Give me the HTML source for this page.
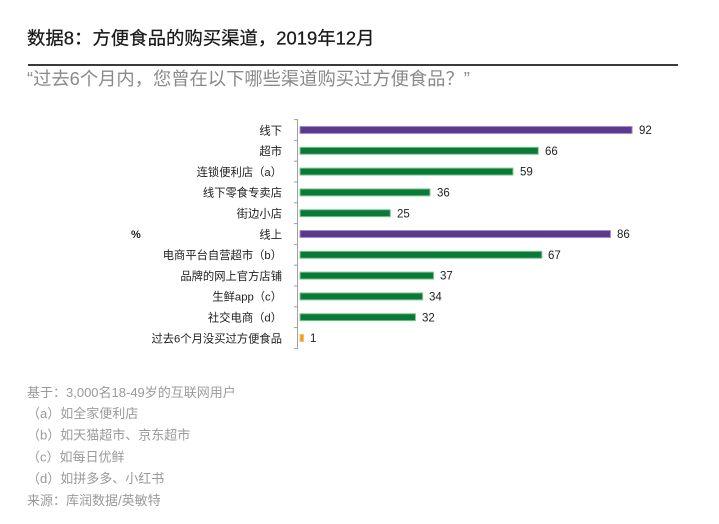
<!DOCTYPE html>
<html>
<head>
<meta charset="utf-8">
<style>
html,body{margin:0;padding:0;background:#fff;}
body{width:719px;height:524px;overflow:hidden;}
svg{display:block;}
text{font-family:"Liberation Sans","Noto Sans CJK SC",sans-serif;}
</style>
</head>
<body>
<svg width="719" height="524" viewBox="0 0 719 524" xmlns="http://www.w3.org/2000/svg">
  <!-- Title -->
  <text x="27" y="44.5" font-size="18.4" fill="#1a1a1a" stroke="#1a1a1a" stroke-width="0.25">数据8：方便食品的购买渠道，2019年12月</text>
  <rect x="28" y="64" width="650" height="2" fill="#3a3a3a"/>
  <text x="27" y="85" font-size="18.3" fill="#8a8a8a">“过去6个月内，您曾在以下哪些渠道购买过方便食品？”</text>

  <!-- Axis -->
  <line x1="297.5" y1="119" x2="297.5" y2="349" stroke="#a0a0a0" stroke-width="1"/>
  <g stroke="#a0a0a0" stroke-width="1">
    <line x1="294" y1="119.6" x2="297.5" y2="119.6"/>
    <line x1="294" y1="140.4" x2="297.5" y2="140.4"/>
    <line x1="294" y1="161.2" x2="297.5" y2="161.2"/>
    <line x1="294" y1="182" x2="297.5" y2="182"/>
    <line x1="294" y1="202.8" x2="297.5" y2="202.8"/>
    <line x1="294" y1="223.6" x2="297.5" y2="223.6"/>
    <line x1="294" y1="244.4" x2="297.5" y2="244.4"/>
    <line x1="294" y1="265.2" x2="297.5" y2="265.2"/>
    <line x1="294" y1="286" x2="297.5" y2="286"/>
    <line x1="294" y1="306.8" x2="297.5" y2="306.8"/>
    <line x1="294" y1="327.6" x2="297.5" y2="327.6"/>
    <line x1="294" y1="348.4" x2="297.5" y2="348.4"/>
  </g>

  <!-- Category labels -->
  <g font-size="11.3" fill="#222" text-anchor="end">
    <text x="282" y="134.3">线下</text>
    <text x="282" y="155.1">超市</text>
    <text x="282" y="175.9">连锁便利店（a）</text>
    <text x="282" y="196.7">线下零食专卖店</text>
    <text x="282" y="217.5">街边小店</text>
    <text x="282" y="238.3">线上</text>
    <text x="282" y="259.1">电商平台自营超市（b）</text>
    <text x="282" y="279.9">品牌的网上官方店铺</text>
    <text x="282" y="300.7">生鲜app（c）</text>
    <text x="282" y="321.5">社交电商（d）</text>
    <text x="282" y="342.3">过去6个月没买过方便食品</text>
  </g>
  <text x="131" y="238" font-size="11" fill="#222" font-weight="bold">%</text>

  <!-- Bars -->
  <g stroke-width="1">
    <rect x="300" y="126.5" width="332.1" height="7" fill="#5b3a8e" stroke="#a68fcf"/>
    <rect x="300" y="147.3" width="238.3" height="7" fill="#0a7a39" stroke="#86c996"/>
    <rect x="300" y="168.1" width="213" height="7" fill="#0a7a39" stroke="#86c996"/>
    <rect x="300" y="188.9" width="130" height="7" fill="#0a7a39" stroke="#86c996"/>
    <rect x="300" y="209.7" width="90.3" height="7" fill="#0a7a39" stroke="#86c996"/>
    <rect x="300" y="230.5" width="310.5" height="7" fill="#5b3a8e" stroke="#a68fcf"/>
    <rect x="300" y="251.3" width="241.9" height="7" fill="#0a7a39" stroke="#86c996"/>
    <rect x="300" y="272.1" width="133.6" height="7" fill="#0a7a39" stroke="#86c996"/>
    <rect x="300" y="292.9" width="122.7" height="7" fill="#0a7a39" stroke="#86c996"/>
    <rect x="300" y="313.7" width="115.5" height="7" fill="#0a7a39" stroke="#86c996"/>
    <rect x="300" y="334.5" width="3.6" height="7" fill="#f39a1e" stroke="#f7c079"/>
  </g>

  <!-- Values -->
  <g font-size="11.5" fill="#222">
    <text x="639" y="134.1">92</text>
    <text x="545" y="154.9">66</text>
    <text x="520" y="175.7">59</text>
    <text x="437" y="196.5">36</text>
    <text x="397" y="217.3">25</text>
    <text x="617" y="238.1">86</text>
    <text x="548" y="258.9">67</text>
    <text x="440" y="279.7">37</text>
    <text x="429" y="300.5">34</text>
    <text x="422" y="321.3">32</text>
    <text x="310" y="342.1">1</text>
  </g>

  <!-- Footnotes -->
  <g font-size="13" fill="#9a9a9a">
    <text x="27" y="396.8">基于：3,000名18-49岁的互联网用户</text>
    <text x="27" y="417.8">（a）如全家便利店</text>
    <text x="27" y="439.3">（b）如天猫超市、京东超市</text>
    <text x="27" y="461.3">（c）如每日优鲜</text>
    <text x="27" y="482.8">（d）如拼多多、小红书</text>
    <text x="27" y="504.8">来源：库润数据/英敏特</text>
  </g>
</svg>
</body>
</html>
